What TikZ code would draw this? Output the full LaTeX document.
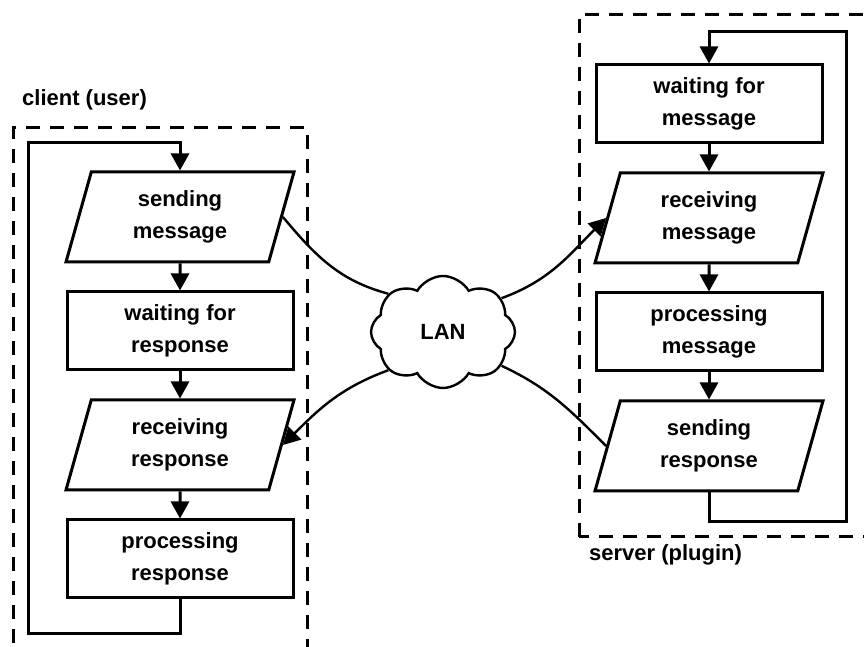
\documentclass[tikz,border=0pt]{standalone}
\usepackage{fontspec}
\setmainfont{Liberation Sans}
\usetikzlibrary{arrows.meta,shapes.geometric,shapes.symbols}

\begin{document}
\begin{tikzpicture}[x=0.5pt,y=0.5pt,->,>={Triangle[length=8.5pt,width=9pt]},
                    line width=1.5pt,node distance=57pt,
                    font=\fontsize{11}{16}\selectfont\bfseries]
  \tikzstyle{task}=[rectangle,draw,minimum width=113pt,minimum height=39pt,align=center]
  \tikzstyle{io}=[trapezium,trapezium left angle=69,trapezium right angle=111,
                  trapezium stretches body,draw,minimum width=114pt,minimum height=45pt,align=center]
  \tikzstyle{area}=[-,dash pattern=on 7pt off 5pt]
  \tikzstyle{wire}=[line width=1.2pt]

  \useasboundingbox (0,0) rectangle (864,647);
  \clip (0,0) rectangle (864,647);

  % client and server areas
  \draw[area] (13,-20) rectangle (307,519);
  \draw[area] (579,110) rectangle (890,632);
  \node[anchor=west] (client) at (14,547) {client (user)};
  \node[anchor=west] (server) at (581,92) {server (plugin)};

  % client side
  \node[io]    (c1) at (180,430)    {sending\\message};
  \node[task]  (c2) [below of=c1]   {waiting for\\response};
  \node[io]    (c3) [below of=c2]   {receiving\\response};
  \node[task]  (c4) [below of=c3]   {processing\\response};

  % server side
  \node[task]  (s1) at (709,543)    {waiting for\\message};
  \node[io]    (s2) [below of=s1]   {receiving\\message};
  \node[task]  (s3) [below of=s2]   {processing\\message};
  \node[io]    (s4) [below of=s3]   {sending\\response};

  \node[cloud,draw,fill=white,cloud puffs=8,cloud puff arc=120,aspect=1.3,
        minimum width=72pt,minimum height=56pt,line width=1.2pt] (lan) at (443,315) {LAN};

  \path (c1) edge (c2)
        (c2) edge (c3)
        (c3) edge (c4)
        (s1) edge (s2)
        (s2) edge (s3)
        (s3) edge (s4);

  \draw (c4.south) -- (c4.south |- 0,13) -| (28,504) -| (c1.north);
  \draw (s4.south) -- (s4.south |- 0,125) -| (846,615) -| (s1.north);

  % network
  \draw[wire,-] (c1.east) to[out=-50,in=165] (lan.145);
  \draw[wire]   (lan.30) to[out=20,in=-135] (s2.west);
  \draw[wire]   (lan.215) to[out=200,in=45] (c3.east);
  \draw[wire,-] (s4.west) to[out=135,in=-25] (lan.-30);
\end{tikzpicture}
\end{document}
